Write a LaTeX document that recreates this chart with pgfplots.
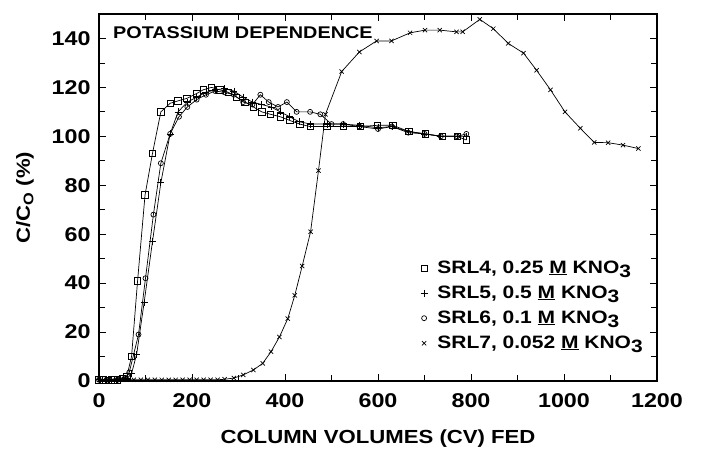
\documentclass[border=0pt]{standalone}
\usepackage{fontspec}
\setmainfont{Liberation Sans}[FakeStretch=1.17]
\usepackage{pgfplots}
\pgfplotsset{compat=1.18}
\newcommand{\sub}[1]{\raisebox{-0.45ex}{#1}}
\begin{document}
\begin{tikzpicture}
\begin{axis}[
  scale only axis, width=558bp, height=367bp,
  xmin=0, xmax=1200, ymin=0, ymax=150,
  xtick={0,200,...,1200}, minor xtick={100,300,...,1100},
  ytick={0,20,...,140}, minor ytick={10,30,...,150},
  tick align=inside, major tick length=7bp, minor tick length=6bp,
  axis line style={line width=1.1bp},
  every tick/.style={black, line width=0.8bp},
  /pgf/number format/assume math mode=true,
  /pgf/number format/1000 sep={},
  tick label style={font=\fontsize{20}{20}\selectfont\bfseries},
  xticklabel style={yshift=-9bp},
  yticklabel style={xshift=-5bp},
  xlabel={COLUMN VOLUMES (CV) FED},
  ylabel={C/C\raisebox{-0.35ex}{\fontsize{14}{14}\selectfont O} (\%)},
  label style={font=\fontsize{19}{19}\selectfont\bfseries},
  xlabel style={yshift=-15bp},
  ylabel style={yshift=11bp},
  legend cell align=left,
  legend style={at={(0.576,0.342)}, anchor=north west, draw=none, fill=none,
    inner sep=0bp, row sep=0bp,
    font=\fontsize{18}{18}\selectfont\bfseries,
    nodes={inner sep=2bp, text height=15.5bp, text depth=5.5bp}},
  legend image code/.code={\draw[#1, only marks] plot coordinates {(0bp,0bp)}; \path (-3bp,0bp) (11bp,0bp);},
]
\addplot[black, line width=0.7bp, mark=square, mark size=3.2bp, mark options={solid, line width=0.7bp}] coordinates {
(0,0.5)(10,0.5)(20,0.3)(30,0.5)(40,0.5)(50,1)(60,2)(70,10)(83,41)(99,76)(115,93)(133,110)(153,113.5)(170,114.5)(189,115.5)(210,117.5)(224,119)(242,120)(260,119)(278,118)(296,116)(314,114)(332,112)(350,110)(369,109)(390,108)(410,106.5)(432,105)(454,104)(490,104)(525,104)(562,104)(598,104.5)(632,104.5)(666,102)(702,101)(738,100)(770,100)(790,98.5)
};
\addlegendentry{SRL4, 0.25 \underline{M} KNO\sub{3}}
\addplot[black, line width=0.7bp, mark=+, mark size=3.5bp, mark options={solid, line width=0.7bp}] coordinates {
(0,0.5)(20,0.5)(40,0.5)(60,1)(70,3)(81,11)(97,32)(115,57)(133,81)(153,101)(170,110)(190,114)(210,116)(230,118)(250,119)(270,119.5)(290,118.5)(310,116)(330,114)(350,113)(370,112)(390,110)(410,108)(430,106)(455,105)(490,105)(525,105)(560,104.5)(600,103.5)(630,104)(665,102)(700,101)(735,100)(770,100)(790,100)
};
\addlegendentry{SRL5, 0.5 \underline{M} KNO\sub{3}}
\addplot[black, line width=0.7bp, mark=o, mark size=2.5bp, mark options={solid, line width=0.7bp}] coordinates {
(0,0.5)(20,0.5)(40,0.5)(55,1)(65,3.5)(85,19)(100,42)(117,68)(133,89)(153,101)(172,108)(190,112)(210,115)(230,117)(250,118.5)(270,118)(290,117)(310,114)(330,113)(347,117)(365,114)(385,112)(404,114)(425,110)(454,110)(476,109)(500,105)(525,105)(560,104)(600,103)(630,104)(665,101.5)(700,101)(735,100)(770,100)(790,101)
};
\addlegendentry{SRL6, 0.1 \underline{M} KNO\sub{3}}
\addplot[black, line width=0.7bp, mark=x, mark size=3bp, mark options={solid, line width=0.7bp}] coordinates {
(0,0.5)(15,0.5)(30,0.5)(45,0.5)(60,0.5)(75,0.5)(90,0.5)(105,0.5)(120,0.5)(135,0.5)(150,0.5)(165,0.5)(180,0.5)(195,0.5)(210,0.5)(225,0.5)(240,0.5)(255,0.5)(270,0.7)(290,1.2)(310,2.5)(332,4.5)(352,7.2)(370,12)(388,18)(406,25.5)(421,35)(437,47)(455,61)(472,86)(487,109)(522,126.5)(560,134.5)(597,139)(629,139)(669,142.3)(701,143.4)(733,143.4)(769,142.7)(782,142.7)(819,147.8)(848,144)(880,138)(913,134)(941,127)(971,119)(1002,110)(1035,103.3)(1065,97.5)(1095,97.4)(1127,96.4)(1160,95)
};
\addlegendentry{SRL7, 0.052 \underline{M} KNO\sub{3}}
\node[anchor=north west, inner sep=0pt, font=\fontsize{17}{17}\selectfont\bfseries] at (rel axis cs:0.025,0.965) {POTASSIUM DEPENDENCE};
\end{axis}
\path (current axis.south west) ++(-99bp,-65bp) coordinate (bbA);
\path (current axis.north east) ++(45bp,14bp) coordinate (bbB);
\path (bbA) rectangle (bbB);
\end{tikzpicture}
\end{document}
